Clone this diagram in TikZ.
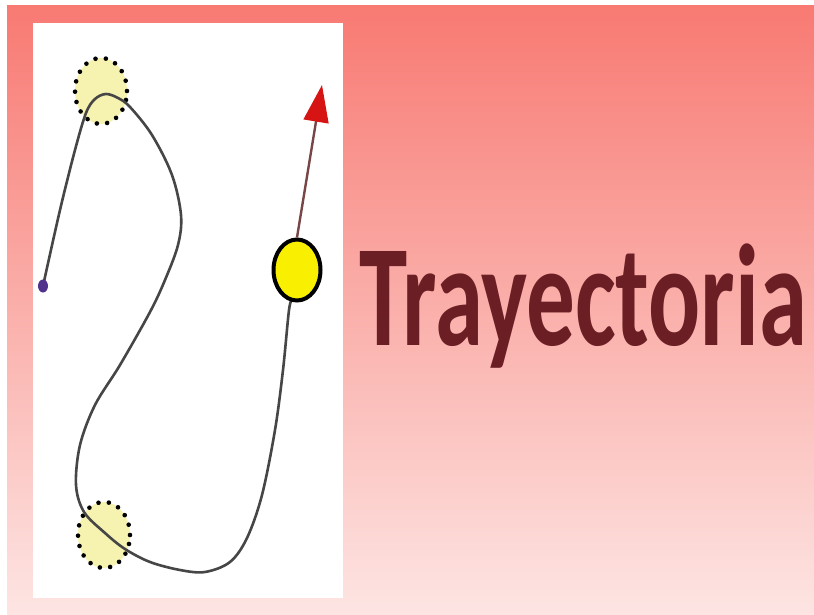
\documentclass[tikz,border=0pt]{standalone}
\usepackage{fontspec}
\newfontfamily\titlefont{Carlito}
\usetikzlibrary{arrows.meta,shapes.geometric}
\definecolor{bgtop}{RGB}{248,122,115}
\definecolor{bgmid}{RGB}{251,165,158}
\definecolor{bgbot}{RGB}{253,229,227}
\definecolor{titlecol}{RGB}{107,31,36}
\definecolor{markfill}{RGB}{246,242,176}
\definecolor{ballfill}{RGB}{248,240,0}
\definecolor{curvecol}{RGB}{70,70,70}
\definecolor{arrowline}{RGB}{120,70,70}
\definecolor{arrowhead}{RGB}{215,20,20}
\definecolor{startcol}{RGB}{80,50,140}
\begin{document}
\begin{tikzpicture}[x=1pt,y=-1pt,
  marker/.style={ellipse,minimum width=52pt,minimum height=66pt,inner sep=0pt,
    fill=markfill,draw=black,line width=4.6pt,line cap=round,
    dash pattern=on 0pt off 10.4pt},
  ballnode/.style={ellipse,minimum width=47pt,minimum height=61pt,inner sep=0pt,
    fill=ballfill,draw=black,line width=4pt},
  startdot/.style={ellipse,minimum width=10pt,minimum height=13pt,inner sep=0pt,fill=startcol},
  pathline/.style={draw=curvecol,line width=2.6pt,line cap=round},
  velocity/.style={draw=arrowline,line width=2.4pt,-{Triangle[width=25pt,length=37pt,color=arrowhead]}}]
\useasboundingbox (0,0) rectangle (814,615);
\fill[white] (0,0) rectangle (814,615);
\shade[top color=bgtop,middle color=bgmid,bottom color=bgbot] (7,6) rectangle (814,615);
\fill[white] (33,23) rectangle (343,598);
% markers
\node[marker] (m1) at (101,91) {};
\node[marker] (m2) at (104,535) {};
% trajectory
\draw[pathline] plot[smooth,tension=0.55] coordinates {
 (43,286) (60,210) (75,150) (86,113) (95,99) (106,94) (118,98) (130,107)
 (152,135) (172,175) (181,215) (178,245) (165,280) (150,312) (120,365)
 (95,405) (80,445) (76,485) (84,512) (105,533) (125,549) (150,562)
 (180,570) (205,572) (230,562) (247,538) (262,495) (275,430) (283,370)
 (289,310) (292,300)};
\node[startdot] (start) at (43,286) {};
% ball and velocity
\node[ballnode] (ball) at (297,270) {};
\coordinate (tip) at (322,85);
\draw[velocity] (ball.north) -- (tip);
% title
\node[anchor=base,text=titlecol,inner sep=0pt] (title) at (583.5,345)
  {\titlefont\bfseries\fontsize{145}{145}\selectfont\scalebox{0.67}[1]{Trayectoria}};
\end{tikzpicture}
\end{document}
